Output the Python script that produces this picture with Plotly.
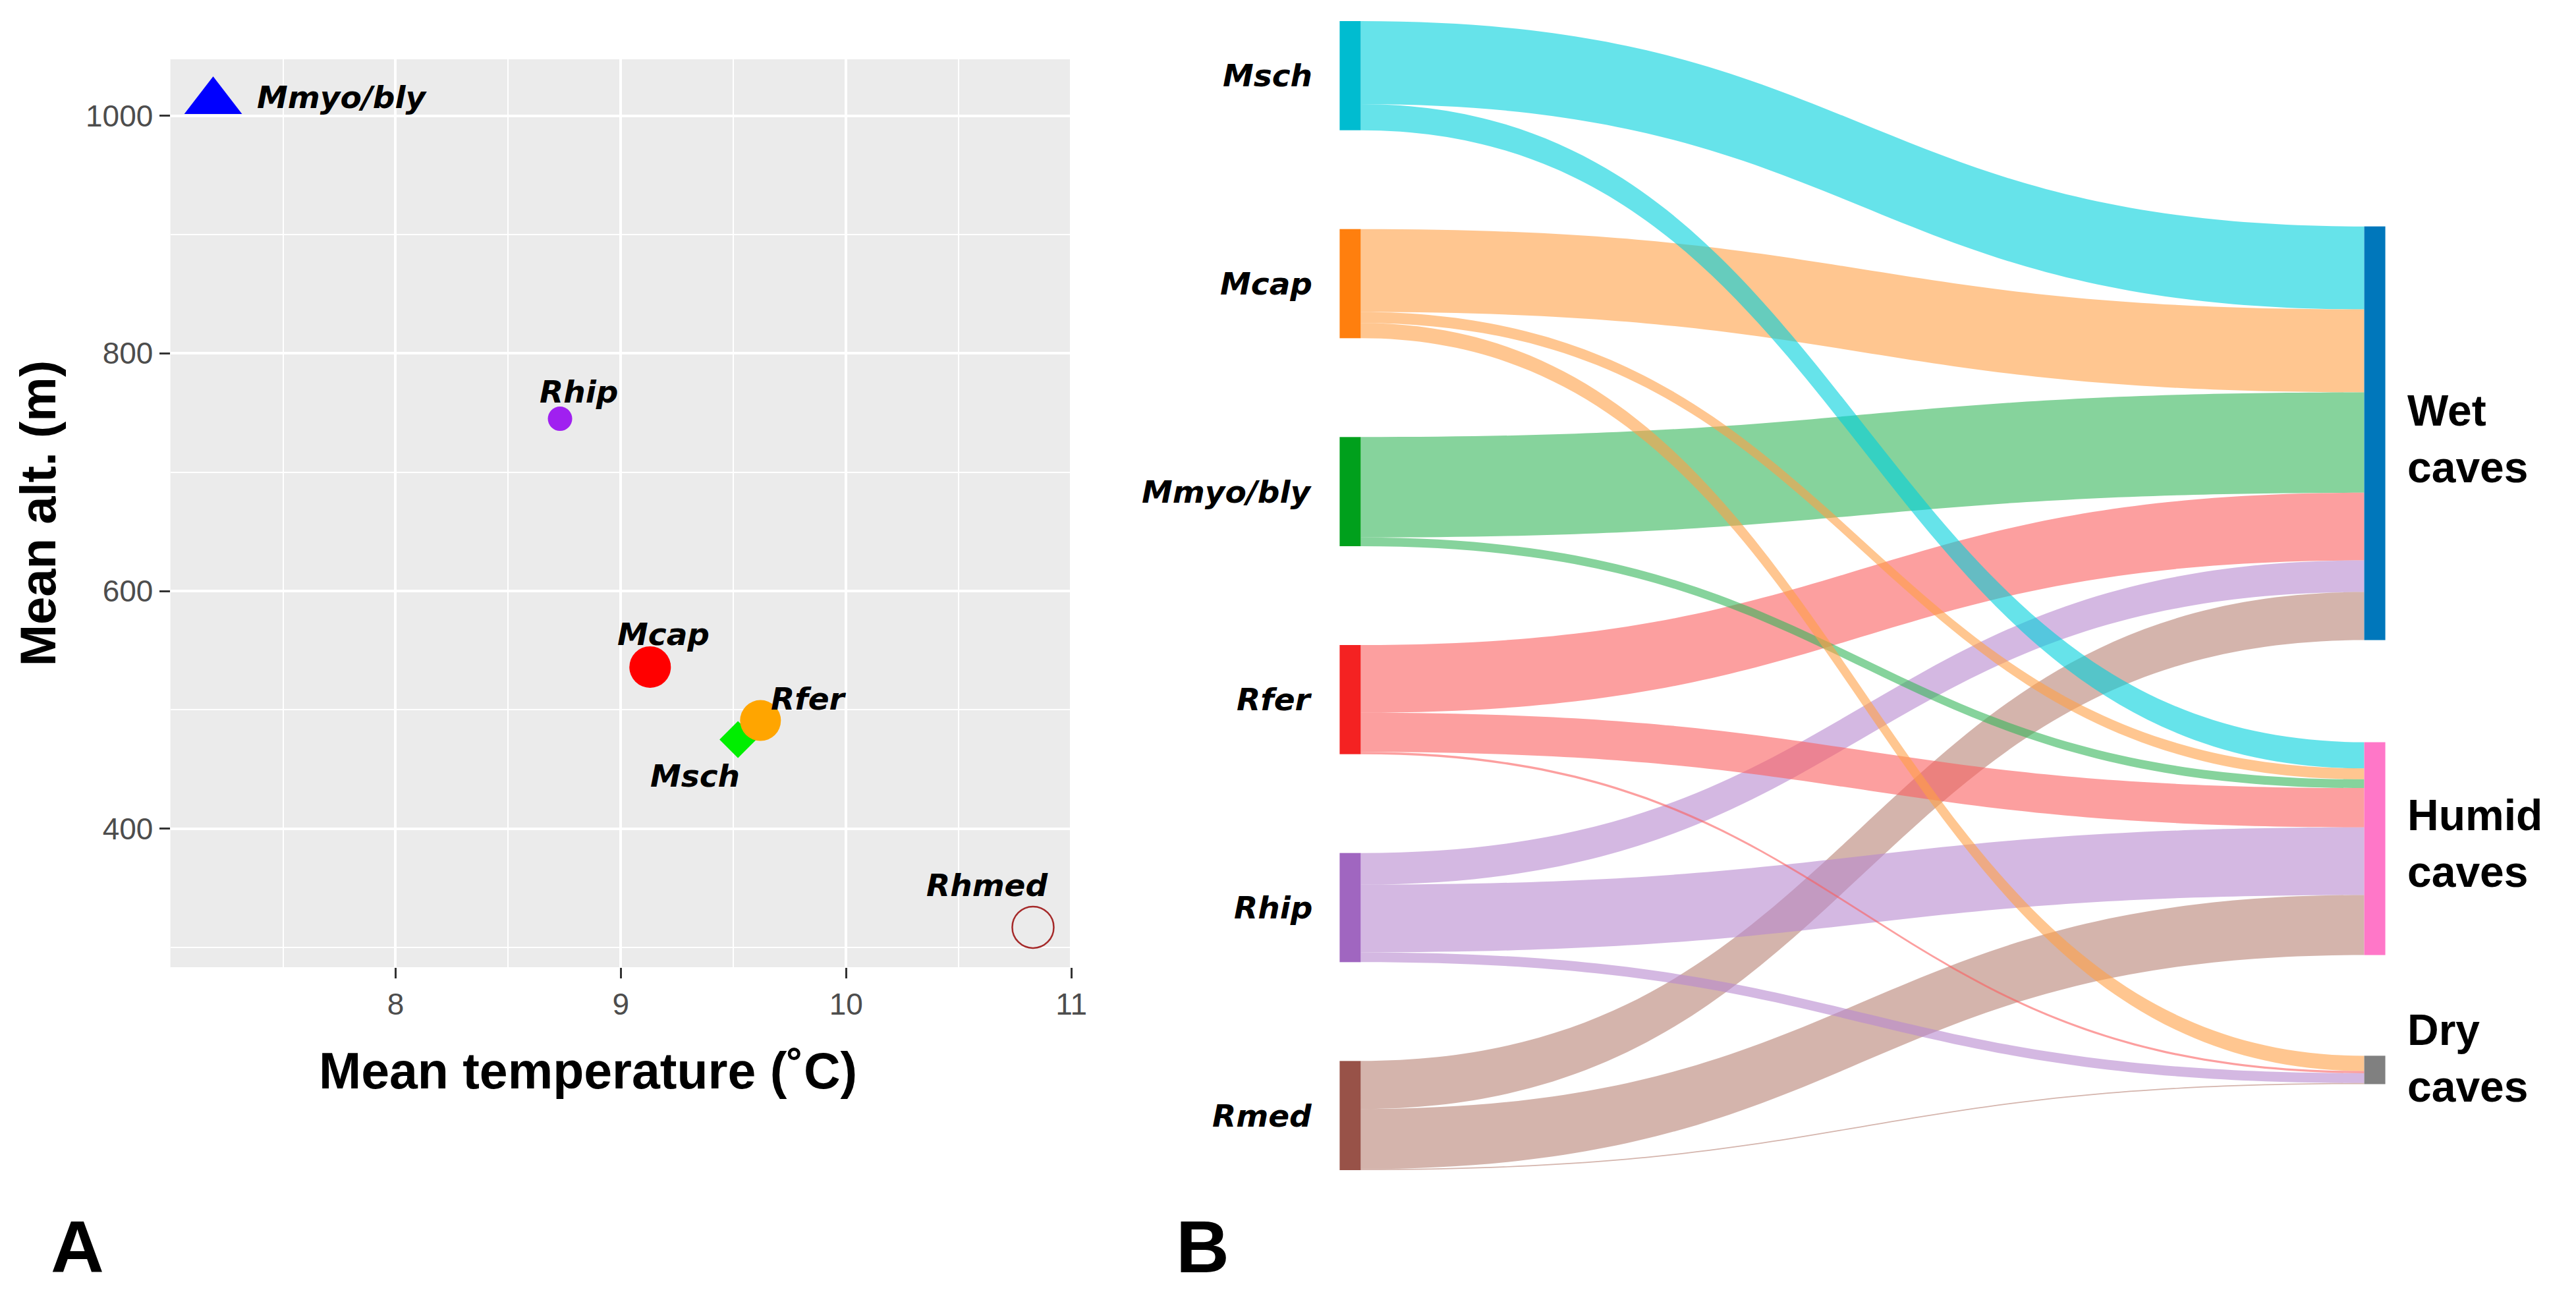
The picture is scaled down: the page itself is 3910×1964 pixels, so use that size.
import plotly.graph_objects as go

# the page body has an 8px margin, so the figure is a bit smaller than the window
Wf, Hf = 3894, 1948


def fx(px):
    return (px - 8) / Wf


def fy(py):
    return 1 - (py - 8) / Hf


# ---- panel A: mean temperature vs mean altitude per species
species = ["Mmyo/bly", "Rhip", "Mcap", "Msch", "Rfer", "Rhmed"]
mean_temp = [7.19, 8.73, 9.13, 9.52, 9.62, 10.83]
mean_alt = [1012, 745, 536, 475, 491, 317]

pt_symbol = ["triangle-up", "circle", "circle", "diamond", "circle", "circle-open"]
pt_color = ["#0000FF", "#A020F0", "#FF0000", "#00EE00", "#FFA500", "#A52A2A"]
pt_size = [76, 37, 63, 43, 62, 63]
pt_line = [0, 0, 0, 0, 0, 2.5]
# label offsets from the point, in px
lab_dx = [64, 28, 20, -65, 73, -69]
lab_dy = [7, 41, 50, -55, 33, 64]
lab_anchor = ["left", "center", "center", "center", "center", "center"]

# ---- panel B: share of each species' records per cave type
bats = ["Msch", "Mcap", "Mmyo/bly", "Rfer", "Rhip", "Rmed"]
caves = ["Wet<br>caves", "Humid<br>caves", "Dry<br>caves"]
wet = [76, 76, 92, 62, 29, 44]
humid = [24, 10, 8, 36, 62, 55]
dry = [0, 14, 0, 2, 9, 1]

bat_colors = ["#00BCD0", "#FF7F0E", "#00A01C", "#F42222", "#A066C0", "#985248"]
cave_colors = ["#0077BB", "#FF77C8", "#808080"]
link_colors = ["rgba(0,208,220,0.6)", "rgba(255,160,70,0.6)", "rgba(53,182,90,0.6)",
               "rgba(250,95,95,0.6)", "rgba(183,137,207,0.6)", "rgba(183,130,117,0.6)"]

src, tgt, val, lcol = [], [], [], []
for j, vals in enumerate([wet, humid, dry]):
    for i, v in enumerate(vals):
        if v > 0:
            src.append(i)
            tgt.append(len(bats) + j)
            val.append(v)
            lcol.append(link_colors[i])

# sankey box in page px
sk_left, sk_right, sk_top, sk_bot = 2045, 3641, 32, 1776
sk_w = sk_right - sk_left
sk_h = sk_bot - sk_top
pad = 150
thick = 32
# where the cave nodes sit (fraction of the sankey height, from top)
cave_y = [0.3587, 0.7202, 0.9128]
cave_lab_dy = [8, -8, -18]

# species column: stacked top to bottom in the given order
totals = [wet[i] + humid[i] + dry[i] for i in range(len(bats))]
ky = (sk_h - (len(bats) - 1) * pad) / sum(totals)
bat_y = []
acc = 0
for t in totals:
    bat_y.append((acc + t * ky / 2) / sk_h)
    acc += t * ky + pad

node_x = [thick / 2 / sk_w] * len(bats) + [(sk_w - thick / 2) / sk_w] * len(caves)
node_y = bat_y + cave_y

fig = go.Figure()

fig.add_trace(go.Scatter(
    x=mean_temp, y=mean_alt, mode="markers",
    marker=dict(symbol=pt_symbol, color=pt_color, size=pt_size, opacity=1,
                line=dict(color=pt_color, width=pt_line)),
    hovertext=species, hoverinfo="text+x+y", showlegend=False))

fig.add_trace(go.Sankey(
    domain=dict(x=[fx(sk_left), fx(sk_right)], y=[fy(sk_bot), fy(sk_top)]),
    arrangement="fixed",
    node=dict(label=[""] * (len(bats) + len(caves)),
              customdata=bats + [c.replace("<br>", " ") for c in caves],
              hovertemplate="%{customdata}<extra></extra>",
              color=bat_colors + cave_colors, pad=pad, thickness=thick,
              line=dict(width=0), x=node_x, y=node_y),
    link=dict(source=src, target=tgt, value=val, color=lcol)))

tick_font = dict(family="Liberation Sans", size=46, color="#4D4D4D")
title_font = dict(family="Liberation Sans", size=76, color="black", weight="bold")

fig.update_layout(
    width=Wf, height=Hf, margin=dict(l=0, r=0, t=0, b=0),
    paper_bgcolor="white", plot_bgcolor="#EBEBEB", showlegend=False,
    xaxis=dict(domain=[fx(260), fx(1637)], range=[7.0, 11.005],
               tickvals=[8, 9, 10, 11], ticks="outside", ticklen=16, tickwidth=3,
               tickcolor="#333333", tickfont=tick_font, zeroline=False,
               showgrid=True, gridcolor="white", gridwidth=4,
               minor=dict(dtick=0.5, tick0=7.5, showgrid=True, gridcolor="white", gridwidth=2)),
    yaxis=dict(domain=[fy(1468), fy(90)], range=[283.4, 1047.5],
               tickvals=[400, 600, 800, 1000], ticks="outside", ticklen=16, tickwidth=3,
               tickcolor="#333333", tickfont=tick_font, zeroline=False,
               showgrid=True, gridcolor="white", gridwidth=4,
               minor=dict(dtick=100, tick0=300, showgrid=True, gridcolor="white", gridwidth=2),
               title=dict(text="Mean alt. (m)", font=title_font, standoff=20)),
)

# x title sits a little left of the panel centre in the original
fig.add_annotation(x=fx(898), y=fy(1625), xref="paper", yref="paper",
                   text="<b>Mean temperature (˚C)</b>", showarrow=False,
                   xanchor="center", yanchor="middle",
                   font=dict(family="Liberation Sans", size=77, color="black"))

lab_font = dict(family="DejaVu Sans", size=47, color="black", weight="bold", style="italic")

# point labels
for k, name in enumerate(species):
    fig.add_annotation(x=mean_temp[k], y=mean_alt[k], xref="x", yref="y", text=name,
                       showarrow=False, xanchor=lab_anchor[k], yanchor="middle",
                       xshift=lab_dx[k], yshift=lab_dy[k], font=lab_font)

# sankey labels at the node centres
for i, name in enumerate(bats):
    fig.add_annotation(x=fx(2005), y=fy(sk_top + bat_y[i] * sk_h), xref="paper", yref="paper",
                       text=name, showarrow=False, xanchor="right", yanchor="middle",
                       font=lab_font)

for j, name in enumerate(caves):
    fig.add_annotation(x=fx(3673), y=fy(sk_top + cave_y[j] * sk_h + cave_lab_dy[j]),
                       xref="paper", yref="paper",
                       text="<b>" + name + "</b>", showarrow=False, xanchor="left",
                       yanchor="middle", align="left",
                       font=dict(family="Liberation Sans", size=66, color="black"))

# panel letters
for letter, px in [("A", 75), ("B", 1793)]:
    fig.add_annotation(x=fx(px), y=fy(1892), xref="paper", yref="paper",
                       text="<b>" + letter + "</b>", showarrow=False,
                       xanchor="left", yanchor="middle",
                       font=dict(family="Liberation Sans", size=112, color="black"))

fig.write_html("out.html")
